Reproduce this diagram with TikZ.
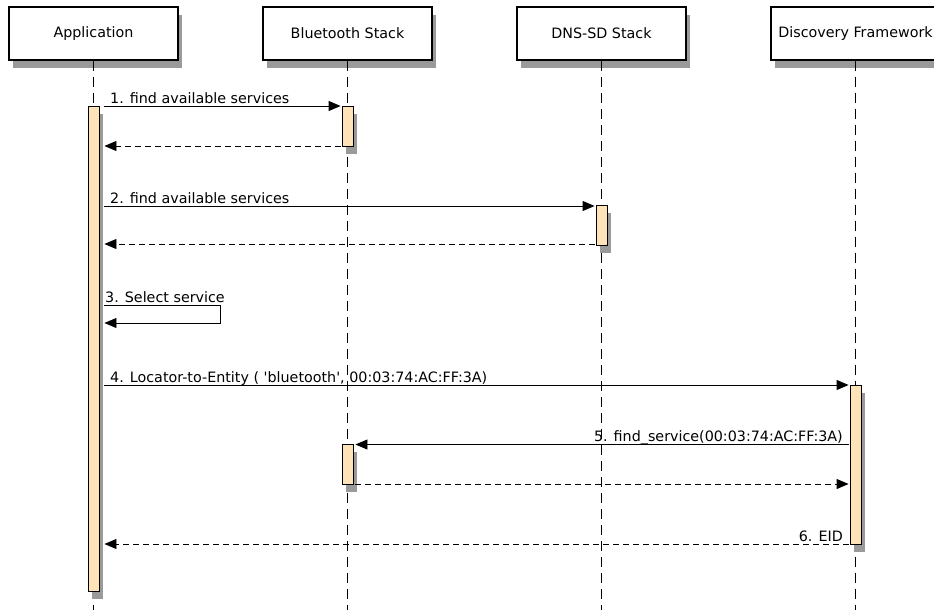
\documentclass[tikz,border=0pt]{standalone}
\usepackage{fontspec}
\setmainfont{DejaVu Sans}
\usetikzlibrary{arrows.meta,calc,shadows}
\definecolor{actfill}{HTML}{FFE3B8}
\definecolor{shadowgray}{HTML}{9A9A9A}
\begin{document}
\begin{tikzpicture}[x=1pt,y=-1pt,
  font=\fontsize{14.3}{17}\selectfont,
  actor/.style={draw=black, line width=1.2pt, fill=white, minimum width=169pt,
    minimum height=53pt, inner sep=0pt,
    drop shadow={shadow xshift=4pt, shadow yshift=-8pt, fill=shadowgray, opacity=1}},
  bar/.style={draw=black, line width=0.9pt, fill=actfill, minimum width=11pt,
    inner sep=0pt, anchor=north,
    drop shadow={shadow xshift=4pt, shadow yshift=-8pt, fill=shadowgray, opacity=1}},
  lifeline/.style={draw=black, line width=0.9pt, dash pattern=on 10pt off 6pt},
  msg/.style={draw=black, line width=0.9pt, -{Triangle[length=12pt,width=10pt]}},
  ret/.style={msg, dash pattern=on 6pt off 4pt},
  lbl/.style={inner sep=0pt}]
\useasboundingbox (0,0) rectangle (934,610);
\fill[white] (0,0) rectangle (934,610);
% actors
\node[actor] (app) at (93.5,33.5) {Application};
\node[actor] (bt) at (347.5,33.5) {Bluetooth Stack};
\node[actor] (dns) at (601.5,33.5) {DNS-SD Stack};
\node[actor] (df) at (855.5,33.5) {Discovery Framework};
% lifelines
\coordinate (bottom) at (0,612);
\draw[lifeline] (app.south) -- (app.south |- bottom);
\draw[lifeline] (bt.south) -- (bt.south |- bottom);
\draw[lifeline] (dns.south) -- (dns.south |- bottom);
\draw[lifeline] (df.south) -- (df.south |- bottom);
% activation bars
\node[bar, minimum height=485pt] (appbar) at (93.5,106) {};
\node[bar, minimum height=40pt] (btA) at (347.5,106) {};
\node[bar, minimum height=40pt] (dnsA) at (601.5,205) {};
\node[bar, minimum height=159pt] (dfA) at (855.5,385) {};
\node[bar, minimum height=40pt] (btB) at (347.5,444) {};
% message levels
\coordinate (m1) at (0,106);
\coordinate (r1) at (0,146);
\coordinate (m2) at (0,206);
\coordinate (r2) at (0,244);
\coordinate (m3) at (0,305);
\coordinate (m3b) at (0,323);
\coordinate (m4) at (0,385);
\coordinate (m5) at (0,444.5);
\coordinate (r5) at (0,484);
\coordinate (m6) at (0,544);
\coordinate (selfx) at (220,0);
% 1
\draw[msg] ($(appbar.east |- m1)+(5,0)$) -- ($(btA.west |- m1)+(-1,0)$);
\node[lbl, anchor=base west] (l1) at (110,103) {1. find available services};
\draw[ret] ($(btA.west |- r1)+(-1,0)$) -- ($(appbar.east |- r1)+(5,0)$);
% 2
\draw[msg] ($(appbar.east |- m2)+(5,0)$) -- ($(dnsA.west |- m2)+(-1,0)$);
\node[lbl, anchor=base west] (l2) at (110,203) {2. find available services};
\draw[ret] ($(dnsA.west |- r2)+(-1,0)$) -- ($(appbar.east |- r2)+(5,0)$);
% 3 self
\draw[msg] ($(appbar.east |- m3)+(5,0)$) -- (selfx |- m3) -- (selfx |- m3b) -- ($(appbar.east |- m3b)+(5,0)$);
\node[lbl, anchor=base west] (l3) at (105,302) {3. Select service};
% 4
\draw[msg] ($(appbar.east |- m4)+(5,0)$) -- ($(dfA.west |- m4)+(-1,0)$);
\node[lbl, anchor=base west] (l4) at (110,382) {4. Locator-to-Entity ( \textquotesingle bluetooth\textquotesingle, 00:03:74:AC:FF:3A)};
% 5
\draw[msg] ($(dfA.west |- m5)+(-1,0)$) -- ($(btB.east |- m5)+(2,0)$);
\node[lbl, anchor=base east] (l5) at (843,441.5) {5. find\_service(00:03:74:AC:FF:3A)};
\draw[ret] ($(btB.east |- r5)+(2,0)$) -- ($(dfA.west |- r5)+(-1,0)$);
% 6
\draw[ret] ($(dfA.west |- m6)+(-1,0)$) -- ($(appbar.east |- m6)+(5,0)$);
\node[lbl, anchor=base east] (l6) at (843,541) {6. EID};
\end{tikzpicture}
\end{document}
